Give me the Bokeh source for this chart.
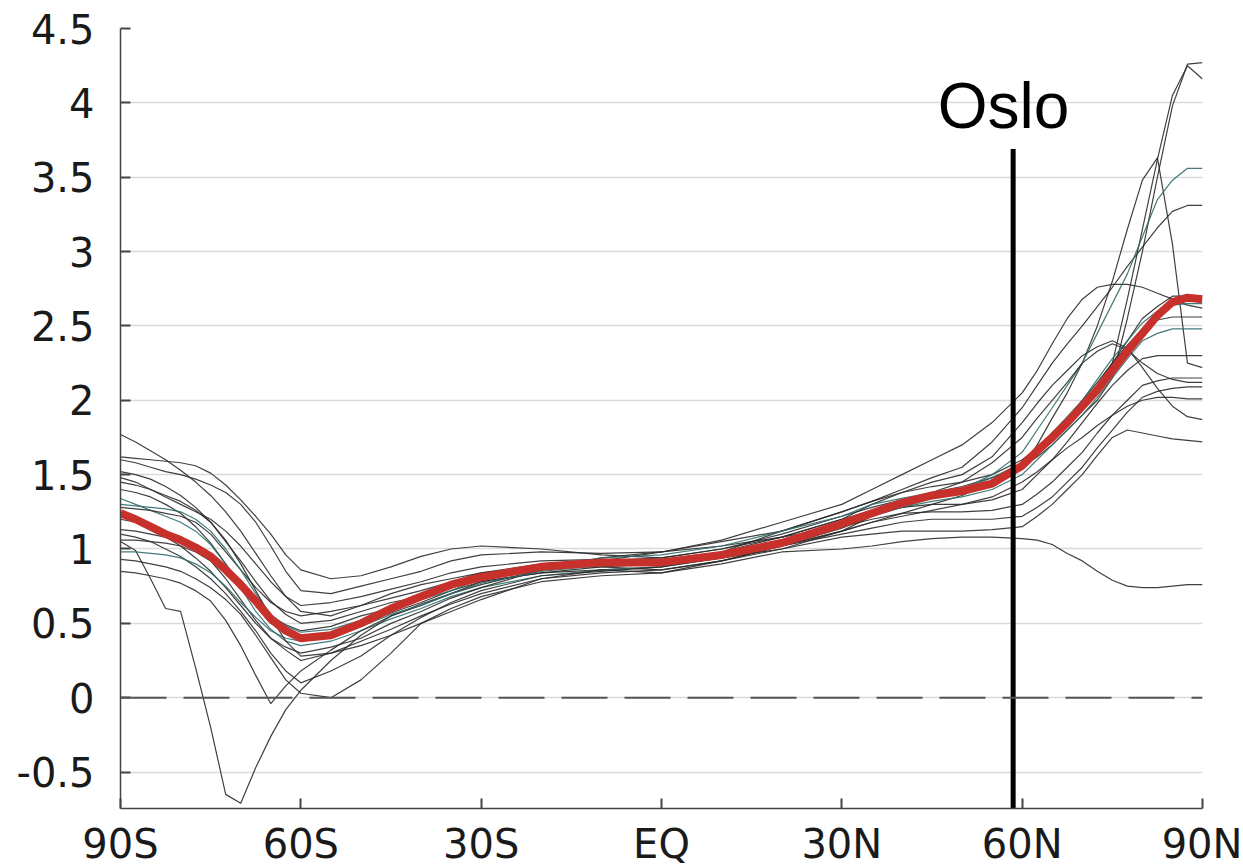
from bokeh.plotting import figure
from bokeh.models import Range1d, Span, FixedTicker, CustomJSTickFormatter
from bokeh.embed import file_html
from bokeh.resources import INLINE
from bokeh.core.properties import value

# Latitude grid (negative = south)
LAT = [-90, -87.5, -85, -82.5, -80, -77.5, -75, -72.5, -70, -67.5, -65, -62.5, -60,
       -55, -50, -45, -40, -35, -30,
       -20, -10, 0, 10, 20, 30,
       35, 40, 45, 50, 55,
       60, 62.5, 65, 67.5, 70, 72.5, 75, 77.5, 80, 82.5, 85, 87.5, 90]

# Multi-model mean (red)
MEAN = [1.24, 1.20, 1.15, 1.10, 1.06, 1.01, 0.95, 0.86, 0.76, 0.65, 0.53, 0.45, 0.40,
        0.42, 0.50, 0.60, 0.68, 0.76, 0.81,
        0.88, 0.91, 0.91, 0.96, 1.04, 1.17,
        1.24, 1.31, 1.36, 1.39, 1.44,
        1.56, 1.66, 1.75, 1.85, 1.96, 2.07, 2.20, 2.33, 2.45, 2.57, 2.66, 2.69, 2.68]

# Individual models (thin lines)
M01 = [1.77, 1.72, 1.66, 1.60, 1.53, 1.45, 1.36, 1.25, 1.12, 0.97, 0.82, 0.68, 0.58,
       0.55, 0.62, 0.70, 0.76, 0.80, 0.84,
       0.88, 0.88, 0.86, 0.92, 1.02, 1.12,
       1.18, 1.22, 1.26, 1.30, 1.35,
       1.45, 1.52, 1.60, 1.68, 1.75, 1.83, 1.90, 1.96, 2.00, 2.02, 2.02, 2.01, 2.01]
M02 = [1.62, 1.61, 1.60, 1.59, 1.58, 1.56, 1.51, 1.43, 1.33, 1.22, 1.10, 0.96, 0.86,
       0.80, 0.82, 0.88, 0.95, 1.00, 1.02,
       1.00, 0.96, 0.94, 1.00, 1.10, 1.22,
       1.28, 1.33, 1.38, 1.42, 1.48,
       1.55, 1.62, 1.70, 1.80, 1.90, 2.00, 2.15, 2.55, 3.00, 3.50, 3.98, 4.26, 4.27]
M03 = [1.60, 1.58, 1.55, 1.52, 1.50, 1.47, 1.43, 1.38, 1.30, 1.18, 1.02, 0.85, 0.72,
       0.70, 0.75, 0.80, 0.85, 0.92, 0.96,
       0.98, 0.97, 0.98, 1.05, 1.12, 1.25,
       1.32, 1.38, 1.42, 1.45, 1.50,
       1.60, 1.68, 1.78, 1.88, 2.00, 2.12, 2.25, 2.37, 2.48, 2.54, 2.56, 2.56, 2.56]
M04 = [1.52, 1.50, 1.47, 1.42, 1.36, 1.28, 1.18, 1.05, 0.92, 0.78, 0.65, 0.56, 0.50,
       0.52, 0.58, 0.64, 0.68, 0.74, 0.80,
       0.86, 0.90, 0.90, 0.94, 1.02, 1.12,
       1.18, 1.24, 1.30, 1.36, 1.45,
       1.55, 1.70, 1.88, 2.05, 2.25, 2.50, 2.80, 3.15, 3.48, 3.63, 3.05, 2.25, 2.22]
M05 = [1.48, 1.45, 1.40, 1.35, 1.30, 1.25, 1.20, 1.12, 1.02, 0.90, 0.78, 0.68, 0.62,
       0.64, 0.68, 0.73, 0.78, 0.84, 0.88,
       0.92, 0.93, 0.92, 0.98, 1.08, 1.20,
       1.30, 1.38, 1.45, 1.50, 1.62,
       1.85, 1.98, 2.10, 2.20, 2.30, 2.36, 2.40, 2.35, 2.22, 2.08, 1.96, 1.89, 1.87]
M06 = [1.40, 1.38, 1.35, 1.30, 1.24, 1.15, 1.04, 0.90, 0.76, 0.62, 0.50, 0.44, 0.40,
       0.44, 0.50, 0.57, 0.64, 0.72, 0.78,
       0.84, 0.86, 0.88, 0.98, 1.12, 1.25,
       1.32, 1.40, 1.48, 1.55, 1.72,
       1.95, 2.10, 2.25, 2.38, 2.50, 2.63, 2.76, 2.90, 3.03, 3.16, 3.27, 3.31, 3.31]
M07 = [1.34, 1.30, 1.26, 1.22, 1.18, 1.12, 1.03, 0.90, 0.74, 0.58, 0.46, 0.38, 0.35,
       0.38, 0.45, 0.53, 0.60, 0.68, 0.74,
       0.82, 0.86, 0.88, 0.94, 1.04, 1.16,
       1.22, 1.28, 1.32, 1.35, 1.40,
       1.50, 1.60, 1.70, 1.80, 1.90, 2.02, 2.15, 2.28, 2.40, 2.45, 2.48, 2.48, 2.48]
M08 = [1.28, 1.27, 1.26, 1.24, 1.22, 1.18, 1.10, 0.98, 0.86, 0.74, 0.64, 0.58, 0.55,
       0.58, 0.62, 0.67, 0.72, 0.78, 0.84,
       0.90, 0.92, 0.94, 1.00, 1.08, 1.20,
       1.26, 1.32, 1.36, 1.38, 1.45,
       1.55, 1.65, 1.75, 1.86, 1.98, 2.10, 2.25, 2.40, 2.55, 2.63, 2.70, 2.70, 2.70]
M09 = [1.20, 1.18, 1.14, 1.08, 1.02, 0.94, 0.85, 0.74, 0.62, 0.50, 0.40, 0.34, 0.30,
       0.34, 0.40, 0.50, 0.58, 0.67, 0.74,
       0.86, 0.92, 0.98, 1.06, 1.18, 1.30,
       1.40, 1.50, 1.60, 1.70, 1.85,
       2.05, 2.20, 2.38, 2.55, 2.68, 2.76, 2.78, 2.78, 2.76, 2.72, 2.68, 2.64, 2.62]
M10 = [1.13, 1.12, 1.10, 1.08, 1.05, 1.00, 0.92, 0.80, 0.66, 0.52, 0.40, 0.32, 0.25,
       0.30, 0.38, 0.46, 0.55, 0.63, 0.70,
       0.80, 0.86, 0.84, 0.92, 1.02, 1.14,
       1.22, 1.30, 1.36, 1.40, 1.46,
       1.58, 1.65, 1.74, 1.84, 1.95, 2.07, 2.25, 2.68, 3.15, 3.62, 4.05, 4.25, 4.16]
M11 = [1.06, 1.06, 1.05, 1.04, 1.02, 0.98, 0.92, 0.84, 0.74, 0.64, 0.55, 0.49, 0.45,
       0.48, 0.55, 0.60, 0.66, 0.74, 0.80,
       0.86, 0.90, 0.92, 0.96, 1.06, 1.18,
       1.24, 1.28, 1.30, 1.30, 1.33,
       1.40, 1.50, 1.60, 1.72, 1.85, 1.98, 2.10, 2.20, 2.28, 2.30, 2.30, 2.30, 2.30]
M12 = [1.05, 0.99, 0.80, 0.60, 0.58, 0.20, -0.20, -0.65, -0.71, -0.47, -0.26, -0.08, 0.05,
       0.25, 0.42, 0.55, 0.63, 0.70, 0.76,
       0.86, 0.94, 0.98, 1.02, 1.08, 1.15,
       1.20, 1.24, 1.25, 1.25, 1.26,
       1.30, 1.37, 1.45, 1.55, 1.65, 1.78, 1.90, 2.00, 2.10, 2.13, 2.15, 2.15, 2.15]
M13 = [0.93, 0.92, 0.90, 0.88, 0.85, 0.80, 0.74, 0.66, 0.56, 0.42, 0.27, 0.12, 0.03,
       0.00, 0.12, 0.30, 0.50, 0.60, 0.68,
       0.78, 0.82, 0.84, 0.90, 0.98, 1.00,
       1.02, 1.05, 1.07, 1.08, 1.08,
       1.07, 1.06, 1.03, 0.97, 0.92, 0.85, 0.79, 0.75, 0.74, 0.74, 0.75, 0.76, 0.76]
M14 = [0.85, 0.84, 0.82, 0.80, 0.77, 0.72, 0.65, 0.52, 0.35, 0.15, -0.04, 0.08, 0.18,
       0.32, 0.45, 0.55, 0.62, 0.70, 0.78,
       0.84, 0.88, 0.90, 0.95, 1.02, 1.10,
       1.14, 1.18, 1.20, 1.20, 1.20,
       1.22, 1.28, 1.35, 1.45, 1.55, 1.68, 1.80, 1.92, 2.02, 2.06, 2.08, 2.09, 2.09]
M15 = [1.30, 1.29, 1.28, 1.27, 1.25, 1.20, 1.12, 1.00, 0.86, 0.70, 0.56, 0.48, 0.44,
       0.46, 0.52, 0.60, 0.66, 0.72, 0.80,
       0.88, 0.94, 0.96, 1.02, 1.12, 1.22,
       1.30, 1.34, 1.38, 1.40, 1.50,
       1.65, 1.80, 1.95, 2.10, 2.25, 2.45, 2.65, 2.85, 3.10, 3.35, 3.48, 3.56, 3.56]
M16 = [1.10, 1.08, 1.05, 1.00, 0.95, 0.88, 0.80, 0.70, 0.58, 0.45, 0.30, 0.18, 0.10,
       0.18, 0.28, 0.42, 0.54, 0.64, 0.72,
       0.82, 0.85, 0.88, 0.94, 1.00, 1.08,
       1.10, 1.12, 1.12, 1.12, 1.13,
       1.15, 1.22, 1.30, 1.40, 1.50, 1.63, 1.75, 1.80, 1.78, 1.76, 1.74, 1.73, 1.72]
M17 = [0.98, 0.98, 0.97, 0.96, 0.94, 0.90, 0.84, 0.75, 0.64, 0.54, 0.45, 0.40, 0.38,
       0.42, 0.48, 0.56, 0.62, 0.70, 0.77,
       0.85, 0.89, 0.92, 0.98, 1.06, 1.16,
       1.22, 1.28, 1.34, 1.40, 1.48,
       1.58, 1.68, 1.78, 1.89, 2.00, 2.14, 2.28, 2.40, 2.52, 2.60, 2.64, 2.65, 2.65]
M18 = [1.45, 1.43, 1.40, 1.36, 1.32, 1.26, 1.18, 1.06, 0.90, 0.72, 0.54, 0.38, 0.28,
       0.30, 0.35, 0.42, 0.50, 0.58, 0.66,
       0.80, 0.84, 0.86, 0.92, 1.00, 1.12,
       1.22, 1.30, 1.38, 1.45, 1.58,
       1.75, 1.88, 2.00, 2.12, 2.25, 2.33, 2.38, 2.34, 2.25, 2.18, 2.14, 2.12, 2.12]

MODELS = [M01, M02, M03, M04, M05, M06, M07, M08, M09,
          M10, M11, M12, M13, M14, M15, M16, M17, M18]
MODEL_COLORS = ["#2b2b2b", "#2b2b2b", "#2b2b2b", "#2b2b2b", "#2b2b2b", "#2b2b2b",
                "#2f6b6b", "#2b2b2b", "#2b2b2b", "#2b2b2b", "#2b2b2b", "#2b2b2b",
                "#2b2b2b", "#2b2b2b", "#2f6b6b", "#2b2b2b", "#2f6b6b", "#2b2b2b"]

X_TICKS = [-90, -60, -30, 0, 30, 60, 90]
X_LABELS = ["90S", "60S", "30S", "EQ", "30N", "60N", "90N"]
Y_TICKS = [-0.5, 0, 0.5, 1, 1.5, 2, 2.5, 3, 3.5, 4, 4.5]

OSLO_LAT = 58.5
OSLO_TOP = 3.69
OSLO_LABEL = "Oslo"
OSLO_LABEL_POS = (56.9, 3.98)

TICK_FONT = "DejaVu Sans"

p = figure(frame_width=1082, frame_height=780,
           x_range=Range1d(-90, 90), y_range=Range1d(-0.745, 4.5),
           output_backend="svg", toolbar_location=None,
           min_border_left=120, min_border_top=28, min_border_right=40,
           min_border_bottom=58)
p.outline_line_color = None
p.background_fill_color = "white"
p.border_fill_color = "white"

p.xgrid.visible = False
p.ygrid.ticker = FixedTicker(ticks=Y_TICKS)
p.ygrid.grid_line_color = "#dadada"
p.ygrid.grid_line_width = 1.5

for ax in (p.xaxis, p.yaxis):
    ax.axis_line_color = "#444444"
    ax.axis_line_width = 1.5
    ax.major_tick_in = 10
    ax.major_tick_out = 0
    ax.major_tick_line_color = "#444444"
    ax.major_tick_line_width = 2
    ax.minor_tick_line_color = None
    ax.major_label_text_font = TICK_FONT
    ax.major_label_text_font_size = "40px"
    ax.major_label_text_color = "#1a1a1a"

p.xaxis.ticker = FixedTicker(ticks=X_TICKS)
p.xaxis.major_label_overrides = {t: l for t, l in zip(X_TICKS, X_LABELS)}
p.xaxis.major_label_standoff = 12
p.yaxis.ticker = FixedTicker(ticks=Y_TICKS)
p.yaxis.formatter = CustomJSTickFormatter(code="return String(tick);")
p.yaxis.major_label_standoff = 26

p.add_layout(Span(location=0, dimension="width", line_color="#555555",
                  line_width=2, line_dash="46 17"))

p.multi_line(xs=[LAT] * len(MODELS), ys=MODELS, line_color=MODEL_COLORS,
             line_width=1.2, line_alpha=0.9)
p.line(LAT, MEAN, line_color="#c8312b", line_width=8, line_join="round")

p.segment(x0=[OSLO_LAT], y0=[-0.8], x1=[OSLO_LAT], y1=[OSLO_TOP],
          line_color="black", line_width=5)
p.text(x=[OSLO_LABEL_POS[0]], y=[OSLO_LABEL_POS[1]], text=[OSLO_LABEL],
       text_font=value("Liberation Sans"), text_font_size="64px",
       text_align="center", text_baseline="alphabetic", text_color="black")

open("out.html", "w").write(file_html(p, INLINE))
